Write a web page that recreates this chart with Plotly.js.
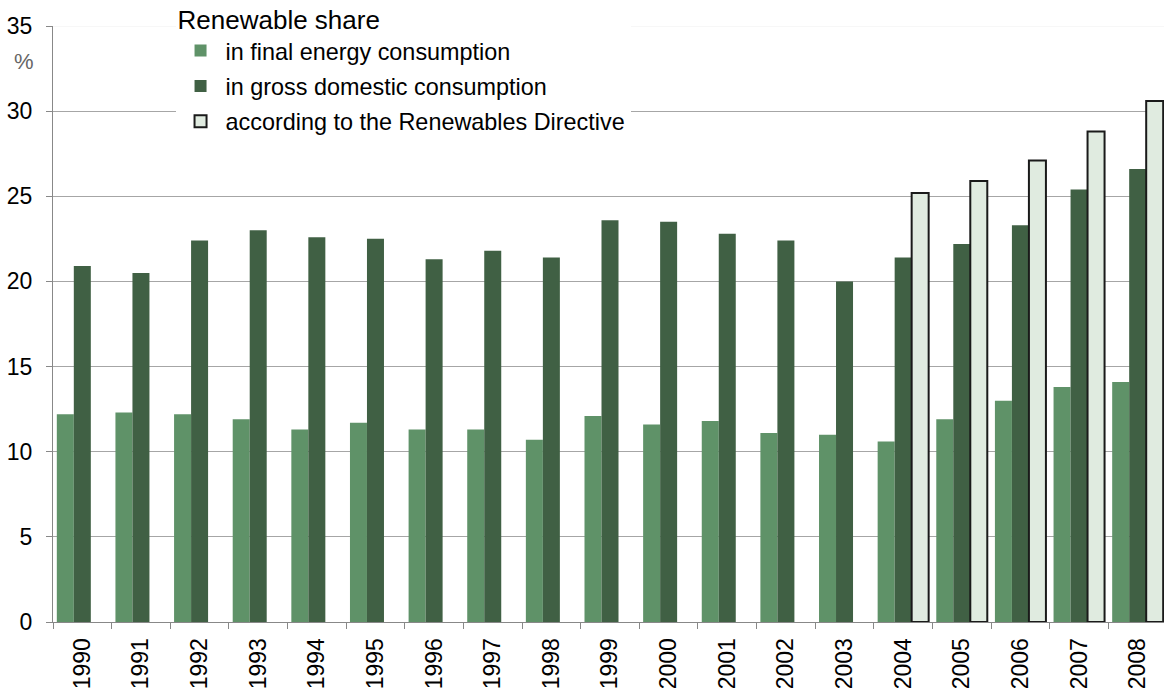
<!DOCTYPE html>
<html>
<head>
<meta charset="utf-8">
<script src="https://cdn.plot.ly/plotly-3.0.1.min.js"></script>
<style>
html,body{margin:0;padding:0;overflow:hidden;background:#fff;}
#chart{width:1167px;height:693px;}
</style>
</head>
<body>
<div id="chart"></div>
<script>
const years = ["1990","1991","1992","1993","1994","1995","1996","1997","1998","1999","2000","2001","2002","2003","2004","2005","2006","2007","2008"];
const finalEnergy = [12.2,12.3,12.2,11.9,11.3,11.7,11.3,11.3,10.7,12.1,11.6,11.8,11.1,11.0,10.6,11.9,13.0,13.8,14.1];
const grossDomestic = [20.9,20.5,22.4,23.0,22.6,22.5,21.3,21.8,21.4,23.6,23.5,22.8,22.4,20.0,21.4,22.2,23.3,25.4,26.6];
const directive = [null,null,null,null,null,null,null,null,null,null,null,null,null,null,25.2,25.9,27.1,28.8,30.6];
const yTicks = [0,5,10,15,20,25,30,35];

const font = "Liberation Sans, Arial, sans-serif";

const traces = [
  {type:"bar", name:"in final energy consumption", x:years, y:finalEnergy, legendgroup:"a",
   marker:{color:"#5f9268", line:{width:0}}, hoverinfo:"x+y"},
  {type:"bar", name:"in gross domestic consumption", x:years, y:grossDomestic, legendgroup:"b",
   marker:{color:"#406044", line:{width:0}}, hoverinfo:"x+y"},
  {type:"bar", name:"according to the Renewables Directive", x:years, y:directive, legendgroup:"c",
   marker:{color:"#e0ebe0", line:{color:"#1a1a1a", width:2}}, hoverinfo:"x+y"}
];

const layout = {
  width:1167, height:693,
  margin:{l:53, r:0, t:26, b:71, autoexpand:false},
  paper_bgcolor:"#fff", plot_bgcolor:"#fff",
  font:{family:font, size:22, color:"#000"},
  barmode:"group", bargap:0.13, bargroupgap:0,
  showlegend:true,
  legend:{
    x:0.11, xanchor:"left", y:1.052, yanchor:"top",
    bgcolor:"#fff", borderwidth:0,
    font:{family:font, size:23.4, color:"#000"},
    title:{text:"Renewable share", font:{family:font, size:26, color:"#000"}},
    itemwidth:40,
    traceorder:"grouped",
    tracegroupgap:2
  },
  xaxis:{
    type:"category", tickangle:-90, tickson:"boundaries",
    ticks:"outside", ticklen:6, tickcolor:"#888", tickwidth:1,
    showline:true, linecolor:"#888", linewidth:1,
    showgrid:false, tickfont:{family:font, size:23, color:"#000"},
    ticklabelstandoff:6,
    fixedrange:true
  },
  yaxis:{
    range:[0,35], tickvals:yTicks, ticks:"outside", ticklen:6, tickcolor:"#888",
    showline:true, linecolor:"#888", linewidth:1,
    showgrid:true, gridcolor:"#a6a6a6", gridwidth:1, zeroline:false,
    tickfont:{family:font, size:23, color:"#000"}, ticklabelstandoff:9,
    fixedrange:true
  },
  shapes:[
    {type:"line", xref:"paper", yref:"y", x0:0, x1:1, y0:35, y1:35, line:{color:"#f0f0f0", width:1}, layer:"above"}
  ],
  annotations:[
    {text:"%", xref:"paper", yref:"paper", x:-0.026, y:0.94, xanchor:"center", yanchor:"middle", showarrow:false,
     font:{family:font, size:22, color:"#666"}}
  ]
};

Plotly.newPlot("chart", traces, layout, {displayModeBar:false, staticPlot:true});
</script>
</body>
</html>
